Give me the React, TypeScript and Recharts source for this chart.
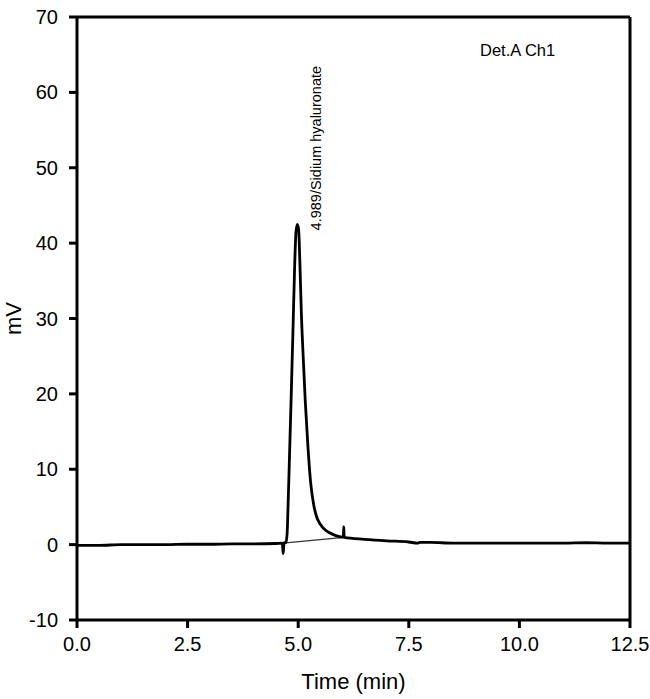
import { LineChart, Line, XAxis, YAxis, ReferenceLine, ReferenceDot } from 'recharts';

// retention time (min) and detector signal (mV)
const time = [
  0, 0.5, 1.0, 1.5, 2.0, 2.5, 3.0, 3.5, 4.0, 4.5, 4.64, 4.66, 4.68, 4.72, 4.75, 4.77, 4.8, 4.84,
  4.88, 4.92, 4.95, 4.98, 5.01, 5.04, 5.07, 5.12, 5.16, 5.22, 5.28, 5.35, 5.41, 5.5, 5.6, 5.7,
  5.85, 6.0, 6.02, 6.03, 6.04, 6.5, 7.0, 7.5, 7.7, 7.75, 8.0, 8.5, 9.0, 10.0, 11.0, 11.5, 12.0, 12.5,
];
const signal = [
  -0.1, -0.1, 0.0, 0.0, 0.0, 0.05, 0.05, 0.1, 0.1, 0.15, 0.2, -1.2, 0.2, 0.3, 1.5, 5, 11, 19.3,
  28, 37, 41.5, 42.5, 41.8, 37, 31, 24, 19, 13, 8.3, 5.3, 3.8, 2.7, 2.0, 1.6,
  1.2, 1.0, 1.0, 2.4, 0.95, 0.7, 0.5, 0.35, 0.2, 0.3, 0.3, 0.2, 0.2, 0.2, 0.2, 0.25, 0.2, 0.2,
];
const xTicks = [0, 2.5, 5, 7.5, 10, 12.5];
const yTicks = [-10, 0, 10, 20, 30, 40, 50, 60, 70];

const peakLabel = '4.989/Sidium hyaluronate';
const channelLabel = 'Det.A Ch1';

const data = time.map((t, i) => ({ t, mv: signal[i] }));

const font = 'Liberation Sans, Arial, sans-serif';
const axisStyle = { stroke: '#000', strokeWidth: 3 };

const App = () => {
  return (
    <div style={{ position: 'absolute', left: 0, top: 0, fontFamily: font }}>
      <LineChart width={650} height={699} data={data} margin={{ top: 17, right: 20, left: 0, bottom: 0 }}>
        <XAxis
          dataKey="t"
          type="number"
          domain={[0, 12.5]}
          ticks={xTicks}
          tickFormatter={(v: number) => v.toFixed(1)}
          axisLine={axisStyle}
          tickLine={axisStyle}
          tickSize={8}
          tickMargin={9}
          height={79}
          tick={{ fill: '#000', fontSize: 20, fontFamily: font }}
          label={{ value: 'Time (min)', position: 'insideBottom', offset: 10, fill: '#000', fontSize: 22, fontFamily: font }}
        />
        <YAxis
          type="number"
          domain={[-10, 70]}
          ticks={yTicks}
          axisLine={axisStyle}
          tickLine={axisStyle}
          tickSize={8}
          tickMargin={11}
          width={77}
          tick={{ fill: '#000', fontSize: 20, fontFamily: font }}
          label={{ value: 'mV', angle: -90, position: 'insideLeft', offset: 13, fill: '#000', fontSize: 22, fontFamily: font, style: { textAnchor: 'middle' } }}
        />
        <ReferenceLine y={70} stroke="#000" strokeWidth={3} />
        <ReferenceLine x={12.5} stroke="#000" strokeWidth={3} />
        <ReferenceLine
          segment={[{ x: 4.66, y: 0.2 }, { x: 6.03, y: 0.95 }]}
          stroke="#333"
          strokeWidth={1.2}
        />
        <Line
          type="monotone"
          dataKey="mv"
          stroke="#000"
          strokeWidth={2.8}
          dot={false}
          isAnimationActive={false}
        />
        <ReferenceDot
          x={5.4}
          y={52.6}
          r={1}
          fill="none"
          stroke="none"
          label={{ value: peakLabel, position: 'center', angle: -90, fill: '#000', fontSize: 14.5, fontFamily: font }}
        />
        <ReferenceDot
          x={9.96}
          y={65.6}
          r={1}
          fill="none"
          stroke="none"
          label={{ value: channelLabel, position: 'center', fill: '#000', fontSize: 16.5, fontFamily: font }}
        />
      </LineChart>
    </div>
  );
};

export default App;
